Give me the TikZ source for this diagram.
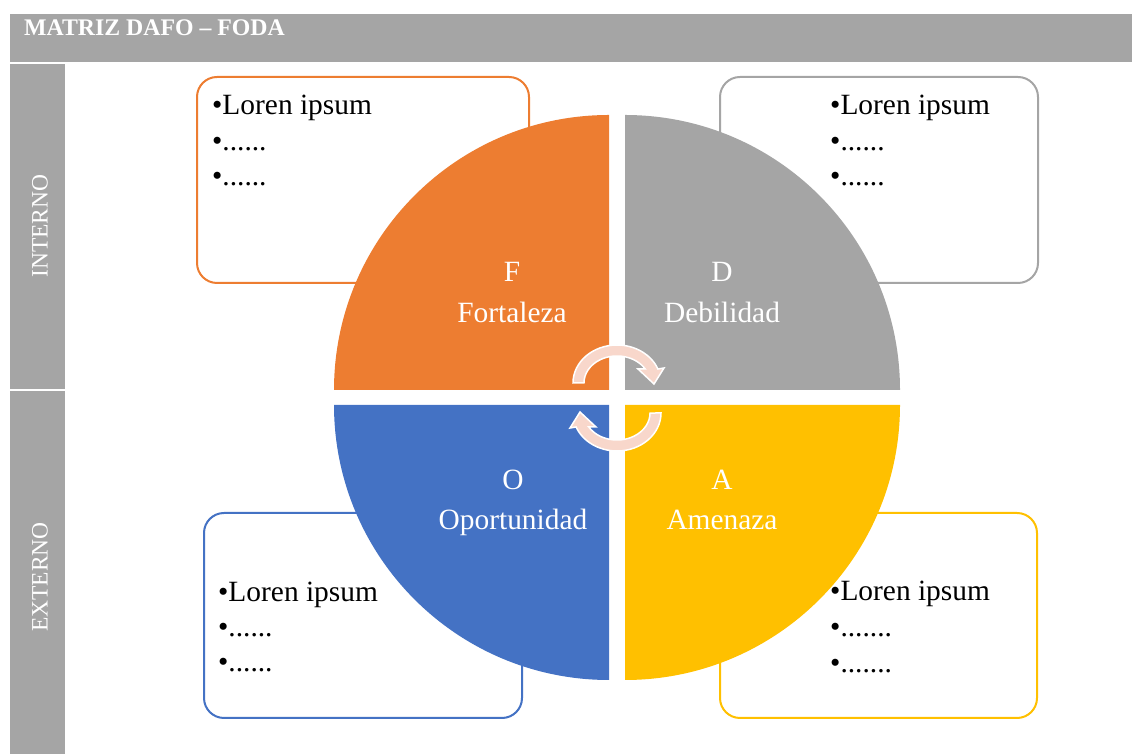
\documentclass[tikz,border=0pt]{standalone}
\usepackage{fontspec}
\setmainfont{Liberation Serif}
\definecolor{cOr}{HTML}{ED7D31}
\definecolor{cGr}{HTML}{A5A5A5}
\definecolor{cBl}{HTML}{4472C4}
\definecolor{cYe}{HTML}{FFC000}
\definecolor{cPe}{RGB}{248,215,203}
\newcommand\cycarrowpath{(-44,0) arc[start angle=180,end angle=21.6,x radius=44,y radius=38] -- (47,15) -- (37,-1) -- (21,14) -- (28.2,14) arc[start angle=31.2,end angle=180,x radius=33,y radius=27] -- cycle}
\begin{document}
\begin{tikzpicture}[x=1pt,y=1pt,
  bar/.style={fill=cGr,draw=none},
  listbox/.style={rounded corners=20pt,line width=2pt,fill=white},
  item/.style={anchor=base west,inner sep=0pt,font=\fontsize{29.4}{35}\selectfont},
  qlabel/.style={anchor=base,inner sep=0pt,text=white,font=\fontsize{29.4}{35}\selectfont},
  side/.style={rotate=90,inner sep=0pt,text=white,font=\fontsize{23.5}{28}\selectfont},
  cyc/.style={fill=cPe,draw=white,line width=1.5pt,line join=miter}]
\useasboundingbox (0,0) rectangle (1132,754);
% header and side bars
\fill[bar] (10,692) rectangle (1132,740);
\node[anchor=base west,inner sep=0pt,text=white,font=\fontsize{23.8}{28}\selectfont\bfseries] (title) at (24,718) {MATRIZ DAFO – FODA};
\fill[bar] (10,365) rectangle (65,690);
\fill[bar] (10,0) rectangle (65,363);
\node[side] (interno) at (40,528) {INTERNO};
\node[side] (externo) at (40,177) {EXTERNO};
% list boxes
\draw[listbox,draw=cOr] (197,471) rectangle (529,677);
\draw[listbox,draw=cGr] (720,471) rectangle (1038,677);
\draw[listbox,draw=cBl] (204,36) rectangle (522,241);
\draw[listbox,draw=cYe] (720,36) rectangle (1037,241);
% quadrants
\fill[cOr] (609,364) -- (609,639) arc[start angle=90,end angle=180,radius=275] -- cycle;
\fill[cGr] (625,364) -- (900,364) arc[start angle=0,end angle=90,radius=275] -- cycle;
\fill[cBl] (609,349) -- (334,349) arc[start angle=180,end angle=270,radius=275] -- cycle;
\fill[cYe] (625,349) -- (625,74) arc[start angle=270,end angle=360,radius=275] -- cycle;
% list texts
\node[item] (f1) at (212,639) {•Loren ipsum};
\node[item] (f2) at (212,603) {•......};
\node[item] (f3) at (212,568) {•......};
\node[item] (d1) at (830,639) {•Loren ipsum};
\node[item] (d2) at (830,603) {•......};
\node[item] (d3) at (830,568) {•......};
\node[item] (o1) at (218,152) {•Loren ipsum};
\node[item] (o2) at (218,117) {•......};
\node[item] (o3) at (218,82) {•......};
\node[item] (a1) at (830,153) {•Loren ipsum};
\node[item] (a2) at (830,117) {•.......};
\node[item] (a3) at (830,81) {•.......};
% quadrant labels
\node[qlabel] (fl) at (512,472) {F};
\node[qlabel] (fn) at (512,431) {Fortaleza};
\node[qlabel] (dl) at (722,472) {D};
\node[qlabel] (dn) at (722,431) {Debilidad};
\node[qlabel] (ol) at (513,264) {O};
\node[qlabel] (on) at (513,224) {Oportunidad};
\node[qlabel] (al) at (722,264) {A};
\node[qlabel] (an) at (722,224) {Amenaza};
% circular arrows
\begin{scope}[shift={(617,371)}]
\draw[cyc] \cycarrowpath;
\end{scope}
\begin{scope}[shift={(617,341)},rotate=180]
\draw[cyc] \cycarrowpath;
\end{scope}
\end{tikzpicture}
\end{document}
